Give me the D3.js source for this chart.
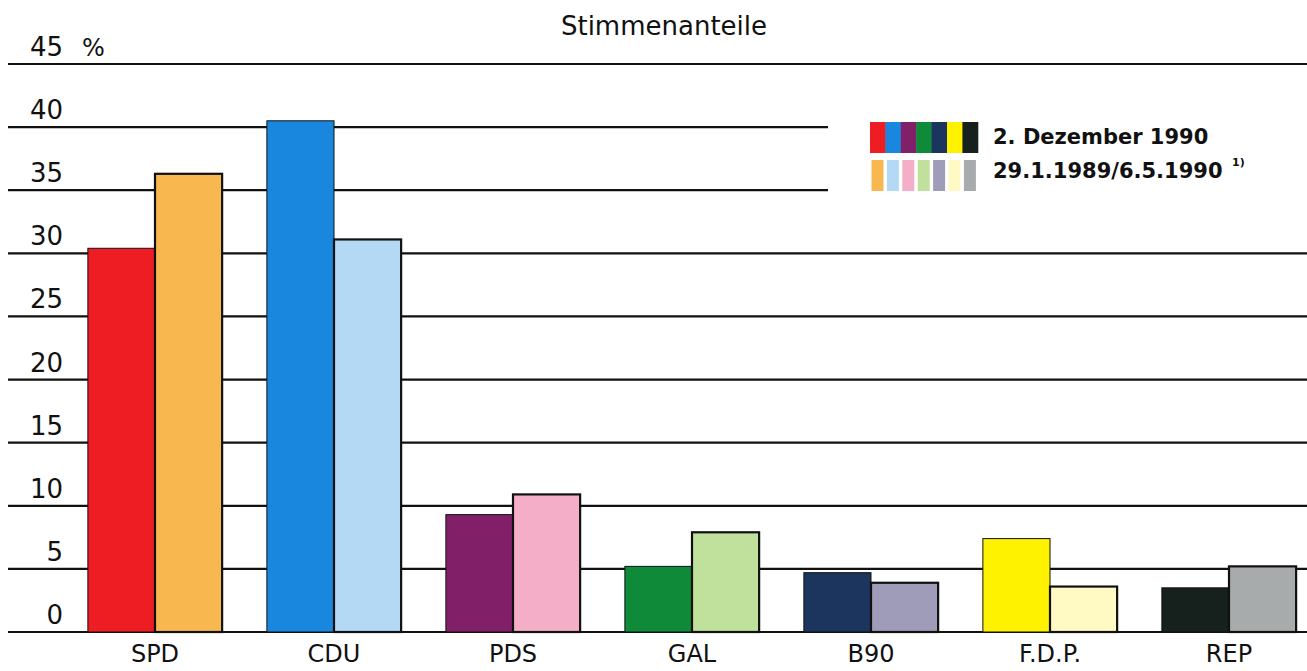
<!DOCTYPE html>
<html>
<head>
<meta charset="utf-8">
<script src="https://cdn.jsdelivr.net/npm/d3@7"></script>
<style>
  body { margin: 0; background: #fff; }
  text { font-family: "DejaVu Sans", sans-serif; fill: #111; }
</style>
</head>
<body>
<div id="container"></div>
<script>
// data
const parties = ["SPD", "CDU", "PDS", "GAL", "B90", "F.D.P.", "REP"]
const wahl1990 = [30.4, 40.5, 9.3, 5.2, 4.7, 7.4, 3.5]
const wahlVorher = [36.3, 31.1, 10.9, 7.9, 3.9, 3.6, 5.2]
const yTicks = [0, 5, 10, 15, 20, 25, 30, 35, 40, 45]
const legendLabels = ["2. Dezember 1990", "29.1.1989/6.5.1990"]

const colorsNew = ["#ee1d23", "#1a87de", "#812068", "#0f8a38", "#1c355e", "#fff200", "#16201c"]
const colorsOld = ["#f8b74f", "#b3d9f5", "#f5aec8", "#bfe19b", "#9e9cb8", "#fff9c4", "#a8abab"]

const width = 1307
const height = 671

const svg = d3.select("#container").append("svg")
  .attr("width", width)
  .attr("height", height)

const y = d3.scaleLinear().domain([0, 45]).range([632, 64])

const x = d3.scaleBand()
  .domain(parties)
  .range([65.5, 65.5 + 7 * 179])
  .paddingInner(0.25)
  .paddingOuter(0.125)

const xSub = d3.scaleBand().domain([0, 1]).range([0, x.bandwidth()])

// title
svg.append("text")
  .attr("x", 664)
  .attr("y", 35)
  .attr("text-anchor", "middle")
  .style("font-size", "26px")
  .text("Stimmenanteile")

// gridlines
svg.append("g")
  .selectAll("line")
  .data(yTicks)
  .enter()
  .append("line")
  .attr("x1", 8)
  .attr("x2", width)
  .attr("y1", d => y(d))
  .attr("y2", d => y(d))
  .attr("stroke", "#111")
  .attr("stroke-width", 2.2)

// tick labels
svg.append("g")
  .selectAll("text")
  .data(yTicks)
  .enter()
  .append("text")
  .attr("x", 63)
  .attr("y", d => y(d) - 8)
  .attr("text-anchor", "end")
  .style("font-size", "26px")
  .text(d => d)

svg.append("text")
  .attr("x", 82)
  .attr("y", y(45) - 8)
  .style("font-size", "24px")
  .text("%")

// legend background hides gridlines
svg.append("rect")
  .attr("x", 828)
  .attr("y", 100)
  .attr("width", width - 828)
  .attr("height", 105)
  .attr("fill", "#fff")

// bars
const rows = parties.map((p, i) => ({ party: p, i, vals: [wahl1990[i], wahlVorher[i]] }))

const groups = svg.append("g")
  .selectAll("g")
  .data(rows)
  .enter()
  .append("g")
  .attr("transform", d => `translate(${x(d.party)},0)`)

groups.selectAll("rect")
  .data(d => d.vals.map((v, k) => ({ v, k, i: d.i })))
  .enter()
  .append("rect")
  .attr("x", d => xSub(d.k))
  .attr("y", d => y(d.v))
  .attr("width", xSub.bandwidth())
  .attr("height", d => y(0) - y(d.v))
  .attr("fill", d => d.k === 0 ? colorsNew[d.i] : colorsOld[d.i])
  .attr("stroke", "#111")
  .attr("stroke-width", d => d.k === 0 ? 1 : 2.2)

// x labels
svg.append("g")
  .selectAll("text")
  .data(parties)
  .enter()
  .append("text")
  .attr("x", d => x(d) + x.bandwidth() / 2)
  .attr("y", 662)
  .attr("text-anchor", "middle")
  .style("font-size", "24px")
  .text(d => d)

/* legend */
const slot = 15.4
const leg = svg.append("g").attr("transform", "translate(870,0)")

leg.selectAll(".sw1")
  .data(colorsNew)
  .enter()
  .append("rect")
  .attr("class", "sw1")
  .attr("x", (_, i) => i * slot)
  .attr("y", 122)
  .attr("width", slot + 0.5)
  .attr("height", 31)
  .attr("fill", c => c)

leg.selectAll(".sw2")
  .data(colorsOld)
  .enter()
  .append("rect")
  .attr("class", "sw2")
  .attr("x", (_, i) => i * slot + 1.5)
  .attr("y", 160)
  .attr("width", 12)
  .attr("height", 31)
  .attr("fill", c => c)

leg.selectAll(".lt")
  .data(legendLabels)
  .enter()
  .append("text")
  .attr("class", "lt")
  .attr("x", 123)
  .attr("y", (_, i) => 144 + i * 34)
  .style("font-size", "21px")
  .style("font-weight", "bold")
  .text(d => d)

svg.append("text")
  .attr("x", 1232)
  .attr("y", 166)
  .style("font-size", "11px")
  .style("font-weight", "bold")
  .text("1)")
</script>
</body>
</html>
